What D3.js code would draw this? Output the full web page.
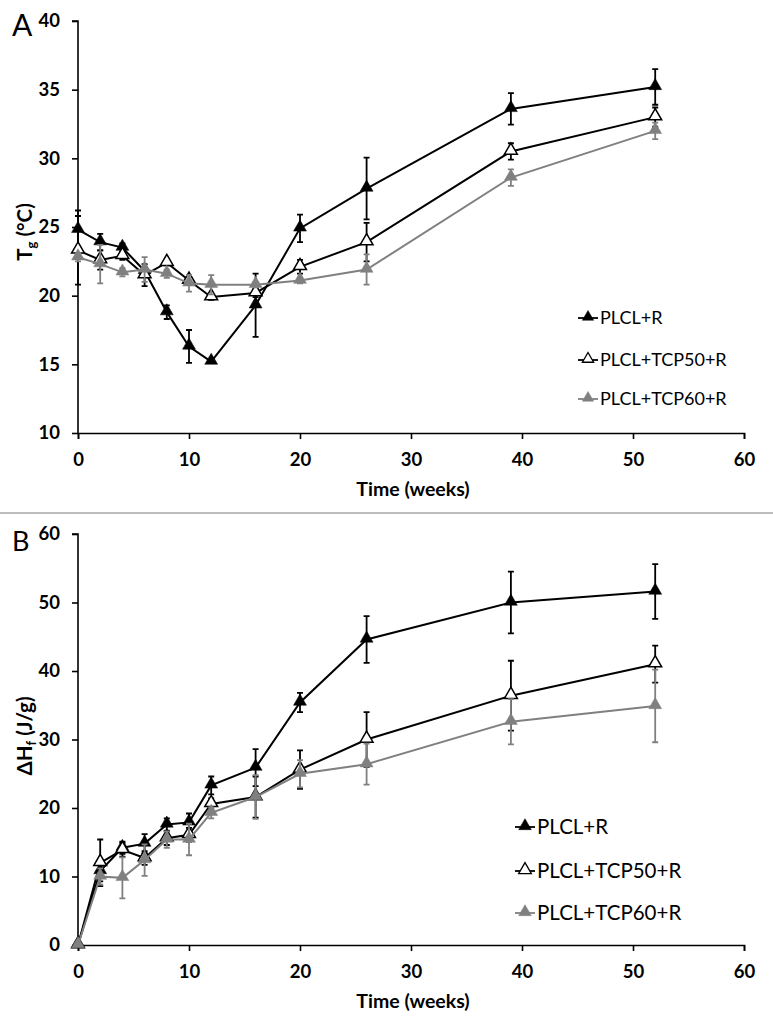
<!DOCTYPE html>
<html><head><meta charset="utf-8">
<script src="https://cdn.jsdelivr.net/npm/d3@7"></script>
<style>body{margin:0;background:#fff}svg{display:block}</style>
</head><body>
<script>
const weeks = [0,2,4,6,8,10,12,16,20,26,39,52];
const seriesNames = ["PLCL+R","PLCL+TCP50+R","PLCL+TCP60+R"];
// Panel A: Tg (°C)
const tgR     = [24.8,23.9,23.5,21.8,18.8,16.3,15.2,19.3,24.9,27.8,33.6,35.2];
const tgRErr  = [1.4,0.6,0.3,0.3,0.5,1.2,0.1,2.3,1.0,2.25,1.15,1.3];
const tg50    = [23.3,22.6,22.9,21.5,22.4,21.1,19.9,20.2,22.1,23.9,30.5,33.0];
const tg50Err = [2.5,0.7,0.3,0.8,0.2,0.3,0.2,0.3,0.5,1.4,0.6,0.7];
const tg60    = [22.8,22.3,21.7,21.9,21.6,20.9,20.8,20.8,21.1,21.9,28.6,32.0];
const tg60Err = [0.3,1.4,0.3,0.9,0.3,0.6,0.7,0.2,0.2,1.1,0.6,0.6];
// Panel B: ΔHf (J/g)
const hR      = [0,10.8,14.2,14.8,17.6,17.9,23.3,25.9,35.4,44.6,50.0,51.6];
const hRErr   = [0,1.5,0.9,1.4,0.9,1.3,1.3,2.7,1.4,3.4,4.5,4.0];
const h50     = [0,12.0,13.9,12.7,15.6,16.1,20.6,21.6,25.6,30.0,36.4,41.0];
const h50Err  = [0,3.4,1.0,1.0,1.0,1.0,0.8,3.0,2.8,4.0,5.1,2.7];
const h60     = [0,10.0,9.8,12.4,15.4,15.4,19.3,21.6,25.0,26.4,32.6,34.9];
const h60Err  = [0,1.2,3.0,2.3,1.2,2.3,0.8,3.2,2.0,3.0,3.3,5.3];
const xTicks = [0,10,20,30,40,50,60];
const yTicksA = [10,15,20,25,30,35,40];
const yTicksB = [0,10,20,30,40,50,60];

const W = 773, H = 1028;
const FONT = "Lato, 'Open Sans', sans-serif";
const svg = d3.select("body").append("svg").attr("width", W).attr("height", H);

const styles = [
  {stroke:"#000", fill:"#000", err:"#000"},
  {stroke:"#000", fill:"#fff", err:"#000"},
  {stroke:"#808080", fill:"#808080", err:"#808080"}
];
const tri = d3.symbol().type(d3.symbolTriangle).size(72);

function panel(opt){
  const x = d3.scaleLinear().domain([0,60]).range([78,744]);
  const y = d3.scaleLinear().domain(opt.ydom).range(opt.yrange);
  const g = svg.append("g");
  // axes
  const ya = g.append("g").attr("transform",`translate(78,0)`)
    .call(d3.axisLeft(y).tickValues(opt.yticks).tickSize(6).tickPadding(12).tickFormat(d3.format("d")));
  const xa = g.append("g").attr("transform",`translate(0,${opt.yrange[0]})`)
    .call(d3.axisBottom(x).tickValues(xTicks).tickSize(6).tickPadding(14).tickFormat(d3.format("d")));
  [ya,xa].forEach(a=>{
    a.attr("font-size",null).attr("font-family",null);
    a.select(".domain").attr("stroke","#000").attr("stroke-width",1.6);
    a.selectAll(".tick line").attr("stroke","#000").attr("stroke-width",1.6);
    a.selectAll(".tick text").attr("font-family",FONT).attr("font-weight","bold")
      .attr("font-size",18.5).attr("fill","#000");
  });
  ya.select(".domain").attr("d",`M-6,${opt.yrange[1]}H0V${opt.yrange[0]}`);
  // x title
  g.append("text").attr("x",413).attr("y",opt.yrange[0]+63).attr("text-anchor","middle")
    .attr("font-family",FONT).attr("font-weight","bold").attr("font-size",19.5).text("Time (weeks)");
  // y title
  const yt = g.append("text").attr("transform",`translate(32,${opt.ytitleY}) rotate(-90)`)
    .attr("text-anchor","middle").attr("font-family",FONT).attr("font-weight","bold").attr("font-size",20.5);
  yt.append("tspan").text(opt.ytitle[0]);
  yt.append("tspan").attr("font-size",13).attr("dy",4).text(opt.ytitle[1]);
  yt.append("tspan").attr("dy",-4).text(opt.ytitle[2]);
  // panel letter
  g.append("text").attr("x",12).attr("y",opt.letterY).attr("font-family",FONT)
    .attr("font-size",opt.letterSize).text(opt.letter);
  // series
  const line = d3.line().x((d,i)=>x(weeks[i])).y(d=>y(d));
  opt.series.forEach((s,k)=>{
    const st = styles[k];
    const sg = g.append("g");
    sg.append("path").attr("d",line(s.v)).attr("fill","none")
      .attr("stroke",st.stroke).attr("stroke-width",2);
    s.v.forEach((v,i)=>{
      const e = s.e[i]; if(!e) return;
      const cx = x(weeks[i]);
      sg.append("path").attr("d",`M${cx},${y(v+e)}V${y(v-e)}M${cx-3},${y(v+e)}H${cx+3}M${cx-3},${y(v-e)}H${cx+3}`)
        .attr("stroke",st.err).attr("stroke-width",1.8).attr("fill","none");
    });
    sg.selectAll("path.m").data(s.v).join("path").attr("class","m")
      .attr("d",tri).attr("transform",(d,i)=>`translate(${x(weeks[i])},${y(d)-1})`)
      .attr("fill",st.fill).attr("stroke",k===1?"#000":st.stroke).attr("stroke-width",k===1?1.5:0.5);
  });
  // legend
  const lg = g.append("g");
  seriesNames.forEach((n,k)=>{
    const st = styles[k];
    const ly = opt.legY[k];
    lg.append("line").attr("x1",opt.legX-22).attr("x2",opt.legX-2).attr("y1",ly).attr("y2",ly)
      .attr("stroke",st.stroke).attr("stroke-width",1.8);
    lg.append("path").attr("d",d3.symbol().type(d3.symbolTriangle).size(opt.legSym)())
      .attr("transform",`translate(${opt.legX-12},${ly-1})`)
      .attr("fill",st.fill).attr("stroke",k===1?"#000":st.stroke).attr("stroke-width",k===1?1.3:0.5);
    lg.append("text").attr("x",opt.legX).attr("y",ly).attr("dy","0.35em")
      .attr("font-family",FONT).attr("font-size",opt.legFont).text(n);
  });
}

panel({ydom:[10,40], yrange:[433,21], yticks:yTicksA, letter:"A", letterY:36, letterSize:30,
  ytitle:["T","g"," (°C)"], ytitleY:232,
  series:[{v:tgR,e:tgRErr},{v:tg50,e:tg50Err},{v:tg60,e:tg60Err}],
  legX:600, legY:[318,360,399], legFont:18, legSym:55});
panel({ydom:[0,60], yrange:[945,534], yticks:yTicksB, letter:"B", letterY:551, letterSize:27,
  ytitle:["ΔH","f"," (J/g)"], ytitleY:736,
  series:[{v:hR,e:hRErr},{v:h50,e:h50Err},{v:h60,e:h60Err}],
  legX:537, legY:[827,871,913], legFont:20.5, legSym:70});

svg.append("line").attr("x1",0).attr("x2",W).attr("y1",513).attr("y2",513)
  .attr("stroke","#bdbdbd").attr("stroke-width",2);
</script>
</body></html>
